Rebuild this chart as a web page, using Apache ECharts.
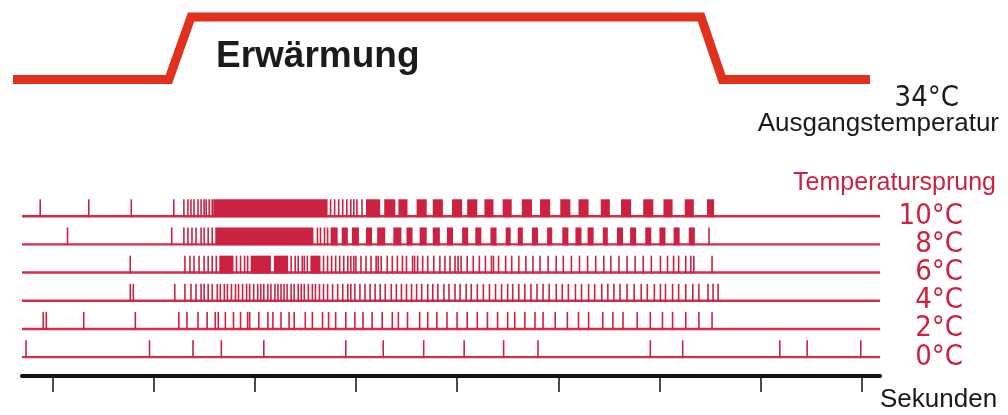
<!DOCTYPE html>
<html>
<head>
<meta charset="utf-8">
<script src="https://cdn.jsdelivr.net/npm/echarts@6/dist/echarts.min.js"></script>
<style>
  html, body { margin: 0; padding: 0; background: #fff; }
  #chart { width: 1008px; height: 415px; }
</style>
</head>
<body>
<div id="chart"></div>
<script>
// Stimulus: bath temperature (°C) over time (s)
const tempTime  = [0.61, 2.15, 2.37, 7.41, 7.62, 9.08];
const tempValue = [34, 34, 44, 44, 34, 34];

// Row labels (temperature step) from bottom to top
const stepLabels = ['0°C', '2°C', '4°C', '6°C', '8°C', '10°C'];

// Time axis ticks (s)
const secondTicks = [1, 2, 3, 4, 5, 6, 7, 8, 9];

// Spike times (s) per row; bursts are [start, end] of dense firing
const spikes10 = [0.88, 1.36, 1.78, 2.20, 2.30, 2.34, 2.37, 2.40, 2.44, 2.47, 2.50, 2.52, 2.55, 2.58,
  3.75, 3.79, 3.83, 3.87, 3.91, 3.95, 3.98, 4.01, 4.06];
const bursts10 = [[2.59, 3.72], [4.10, 4.24], [4.28, 4.39], [4.42, 4.51], [4.60, 4.70], [4.76, 4.86],
  [4.95, 5.05], [5.10, 5.20], [5.27, 5.36], [5.45, 5.54], [5.64, 5.74], [5.82, 5.92], [6.02, 6.12],
  [6.20, 6.30], [6.42, 6.51], [6.62, 6.72], [6.84, 6.94], [7.04, 7.13], [7.25, 7.34], [7.47, 7.54]];

const spikes8 = [1.15, 2.18, 2.30, 2.34, 2.38, 2.42, 2.47, 2.50, 2.54, 2.58, 3.62, 3.65, 3.69, 3.72, 7.49];
const bursts8 = [[2.61, 3.58], [3.75, 3.82], [3.86, 3.92], [3.96, 4.03], [4.10, 4.16], [4.21, 4.29],
  [4.37, 4.45], [4.50, 4.56], [4.63, 4.70], [4.76, 4.83], [4.90, 4.96], [5.05, 5.11], [5.18, 5.24],
  [5.33, 5.39], [5.48, 5.53], [5.60, 5.65], [5.74, 5.80], [5.89, 5.94], [6.04, 6.10], [6.17, 6.23],
  [6.29, 6.35], [6.44, 6.49], [6.58, 6.64], [6.71, 6.77], [6.86, 6.92], [7.00, 7.06], [7.14, 7.20],
  [7.29, 7.35]];

const spikes6 = [1.77, 2.31, 2.36, 2.40, 2.45, 2.50, 2.54, 2.58, 2.62, 2.82, 2.86, 2.90, 2.93,
  3.36, 3.40, 3.43, 3.47, 3.49, 3.52, 3.68, 3.72, 3.76, 3.80, 3.84, 3.88, 3.92, 3.95, 3.98,
  4.00, 4.05, 4.10, 4.15, 4.20, 4.22, 4.25, 4.31, 4.36, 4.41, 4.46, 4.50, 4.56, 4.58, 4.61,
  4.66, 4.71, 4.77, 4.83, 4.88, 4.93, 4.98, 5.01, 5.04, 5.10, 5.16, 5.22, 5.28, 5.34, 5.36,
  5.41, 5.48, 5.54, 5.61, 5.68, 5.75, 5.82, 5.90, 5.98, 6.05, 6.13, 6.21, 6.29, 6.37, 6.45,
  6.52, 6.60, 6.68, 6.76, 6.84, 6.92, 7.01, 7.08, 7.14, 7.19, 7.26, 7.31, 7.34, 7.52];
const bursts6 = [[2.65, 2.79], [2.96, 3.16], [3.19, 3.33], [3.55, 3.65]];

const spikes4 = [1.77, 1.80, 2.21, 2.31, 2.37, 2.42, 2.47, 2.50, 2.54, 2.58, 2.63, 2.66, 2.70, 2.73,
  2.77, 2.81, 2.84, 2.88, 2.92, 2.95, 2.99, 3.03, 3.06, 3.09, 3.13, 3.16, 3.20, 3.23, 3.26, 3.29,
  3.32, 3.36, 3.39, 3.43, 3.46, 3.49, 3.53, 3.57, 3.60, 3.64, 3.68, 3.72, 3.77, 3.82, 3.87, 3.92,
  3.95, 3.99, 4.04, 4.09, 4.14, 4.19, 4.24, 4.29, 4.35, 4.40, 4.45, 4.50, 4.55, 4.60, 4.65, 4.71,
  4.76, 4.81, 4.87, 4.92, 4.98, 5.03, 5.09, 5.14, 5.20, 5.26, 5.32, 5.38, 5.44, 5.50, 5.55, 5.61,
  5.67, 5.73, 5.79, 5.85, 5.91, 5.98, 6.04, 6.10, 6.17, 6.23, 6.30, 6.36, 6.43, 6.49, 6.55, 6.61,
  6.68, 6.75, 6.82, 6.88, 6.95, 7.01, 7.06, 7.13, 7.19, 7.26, 7.33, 7.39, 7.48, 7.53, 7.58];

const spikes2 = [0.91, 0.94, 1.31, 1.82, 2.25, 2.33, 2.44, 2.53, 2.61, 2.64, 2.71, 2.79, 2.86, 2.93,
  2.95, 3.04, 3.13, 3.18, 3.26, 3.34, 3.39, 3.50, 3.57, 3.67, 3.73, 3.80, 3.90, 3.99, 4.07, 4.16,
  4.26, 4.36, 4.42, 4.51, 4.63, 4.71, 4.80, 4.90, 5.00, 5.10, 5.20, 5.30, 5.40, 5.50, 5.57, 5.67,
  5.77, 5.85, 5.97, 6.09, 6.20, 6.30, 6.44, 6.54, 6.64, 6.78, 6.91, 7.03, 7.13, 7.26, 7.39, 7.52];

const spikes0 = [0.74, 1.96, 2.39, 2.67, 3.09, 3.90, 4.27, 4.67, 5.07, 5.46, 5.80, 6.91, 7.23,
  8.19, 8.46, 8.99];

// rows bottom (0°C) to top (10°C)
const rows = [
  { spikes: spikes0, bursts: [] },
  { spikes: spikes2, bursts: [] },
  { spikes: spikes4, bursts: [] },
  { spikes: spikes6, bursts: bursts6 },
  { spikes: spikes8, bursts: bursts8 },
  { spikes: spikes10, bursts: bursts10 }
];

const T_MIN = 0.70, T_MAX = 9.18;
const ROW_MIN = -0.67, ROW_MAX = 6;
const SPIKE_H = 0.6;          // spike height in row units
const RED = '#e0301e';
const CRIMSON = '#cc2241';
const LINE_PINK = '#d62c4e';
const WORD_FONT = '"Liberation Sans", Arial, sans-serif';
const NARROW_FONT = '"DejaVu Sans Condensed", "Liberation Sans", sans-serif';

const spikeData = [];
rows.forEach((r, i) => {
  r.spikes.forEach(t => spikeData.push([t, t, i]));
  r.bursts.forEach(b => spikeData.push([b[0], b[1], i]));
});

const baselineSeries = rows.map((r, i) => ({
  type: 'line',
  xAxisIndex: 1, yAxisIndex: 1,
  data: [[T_MIN, i], [T_MAX, i]],
  symbol: 'none',
  silent: true,
  clip: false,
  lineStyle: { color: LINE_PINK, width: 2.4 },
  z: 2
}));

// Row label axis: the labels sit closer than their font height, so even and
// odd rows go on two overlaid right-hand axes sharing the same scale.
function rowLabelAxis(values) {
  return {
    gridIndex: 1, type: 'value', min: ROW_MIN, max: ROW_MAX, position: 'right', offset: 0,
    axisLine: { show: false, onZero: false }, axisTick: { show: false }, splitLine: { show: false },
    axisLabel: {
      customValues: values,
      formatter: v => stepLabels[Math.round(v)],
      showMinLabel: true, showMaxLabel: true, hideOverlap: false,
      align: 'right', margin: 83,
      color: CRIMSON, fontSize: 29, fontFamily: NARROW_FONT
    }
  };
}

const chart = echarts.init(document.getElementById('chart'), null, { renderer: 'canvas' });

chart.setOption({
  animation: false,
  backgroundColor: '#ffffff',
  grid: [
    { left: 13, right: 138, top: 4.5, height: 75, containLabel: false, outerBoundsMode: 'none' },
    { left: 22, right: 128, top: 188, height: 188, containLabel: false, outerBoundsMode: 'none' }
  ],
  xAxis: [
    { gridIndex: 0, type: 'value', min: tempTime[0], max: tempTime[tempTime.length - 1], show: false },
    {
      gridIndex: 1, type: 'value', min: T_MIN, max: T_MAX, position: 'bottom',
      axisLine: { onZero: false, lineStyle: { color: '#111', width: 4 } },
      axisTick: { customValues: secondTicks, length: 16, lineStyle: { color: '#111', width: 1.5 } },
      axisLabel: { show: false },
      splitLine: { show: false },
      name: 'Sekunden',
      nameLocation: 'end',
      nameGap: 0,
      nameMoveOverlap: false,
      nameTextStyle: {
        color: '#1a1a1a', fontSize: 26, fontFamily: WORD_FONT, lineHeight: 26,
        align: 'left', verticalAlign: 'top', padding: [11, 0, 0, 0]
      }
    }
  ],
  yAxis: [
    { gridIndex: 0, type: 'value', min: 34, max: 46, show: false },
    rowLabelAxis([0, 2, 4]),
    rowLabelAxis([1, 3, 5])
  ],
  graphic: [
    { type: 'text', x: 216, y: 57, style: { text: 'Erwärmung', fill: '#1b1b1b',
      font: 'bold 37px ' + WORD_FONT, align: 'left', verticalAlign: 'middle' } },
    { type: 'text', x: 959, y: 98, style: { text: '34°C', fill: '#1b1b1b',
      font: '29px ' + NARROW_FONT, align: 'right', verticalAlign: 'middle' } },
    { type: 'text', x: 999, y: 124, style: { text: 'Ausgangstemperatur', fill: '#1b1b1b',
      font: '26px ' + WORD_FONT, align: 'right', verticalAlign: 'middle' } },
    { type: 'text', x: 996, y: 183, style: { text: 'Temperatursprung', fill: CRIMSON,
      font: '25px ' + WORD_FONT, align: 'right', verticalAlign: 'middle' } }
  ],
  series: [
    {
      type: 'line',
      xAxisIndex: 0, yAxisIndex: 0,
      data: tempTime.map((t, i) => [t, tempValue[i]]),
      symbol: 'none',
      clip: false,
      lineStyle: { color: RED, width: 9, join: 'miter' },
      z: 3
    },
    ...baselineSeries,
    {
      type: 'custom',
      xAxisIndex: 1, yAxisIndex: 1,
      data: spikeData,
      encode: { x: [0, 1], y: 2 },
      clip: false,
      z: 3,
      renderItem: (params, api) => {
        const row = api.value(2);
        const p0 = api.coord([api.value(0), row]);
        const p1 = api.coord([api.value(1), row]);
        const top = api.coord([api.value(0), row + SPIKE_H]);
        let w = p1[0] - p0[0];
        let x = p0[0];
        if (w < 1.6) { x = p0[0] - 0.8; w = 1.6; }
        return {
          type: 'rect',
          shape: { x: x, y: top[1], width: w, height: p0[1] - top[1] + 1 },
          style: { fill: CRIMSON }
        };
      }
    }
  ]
});
</script>
</body>
</html>
